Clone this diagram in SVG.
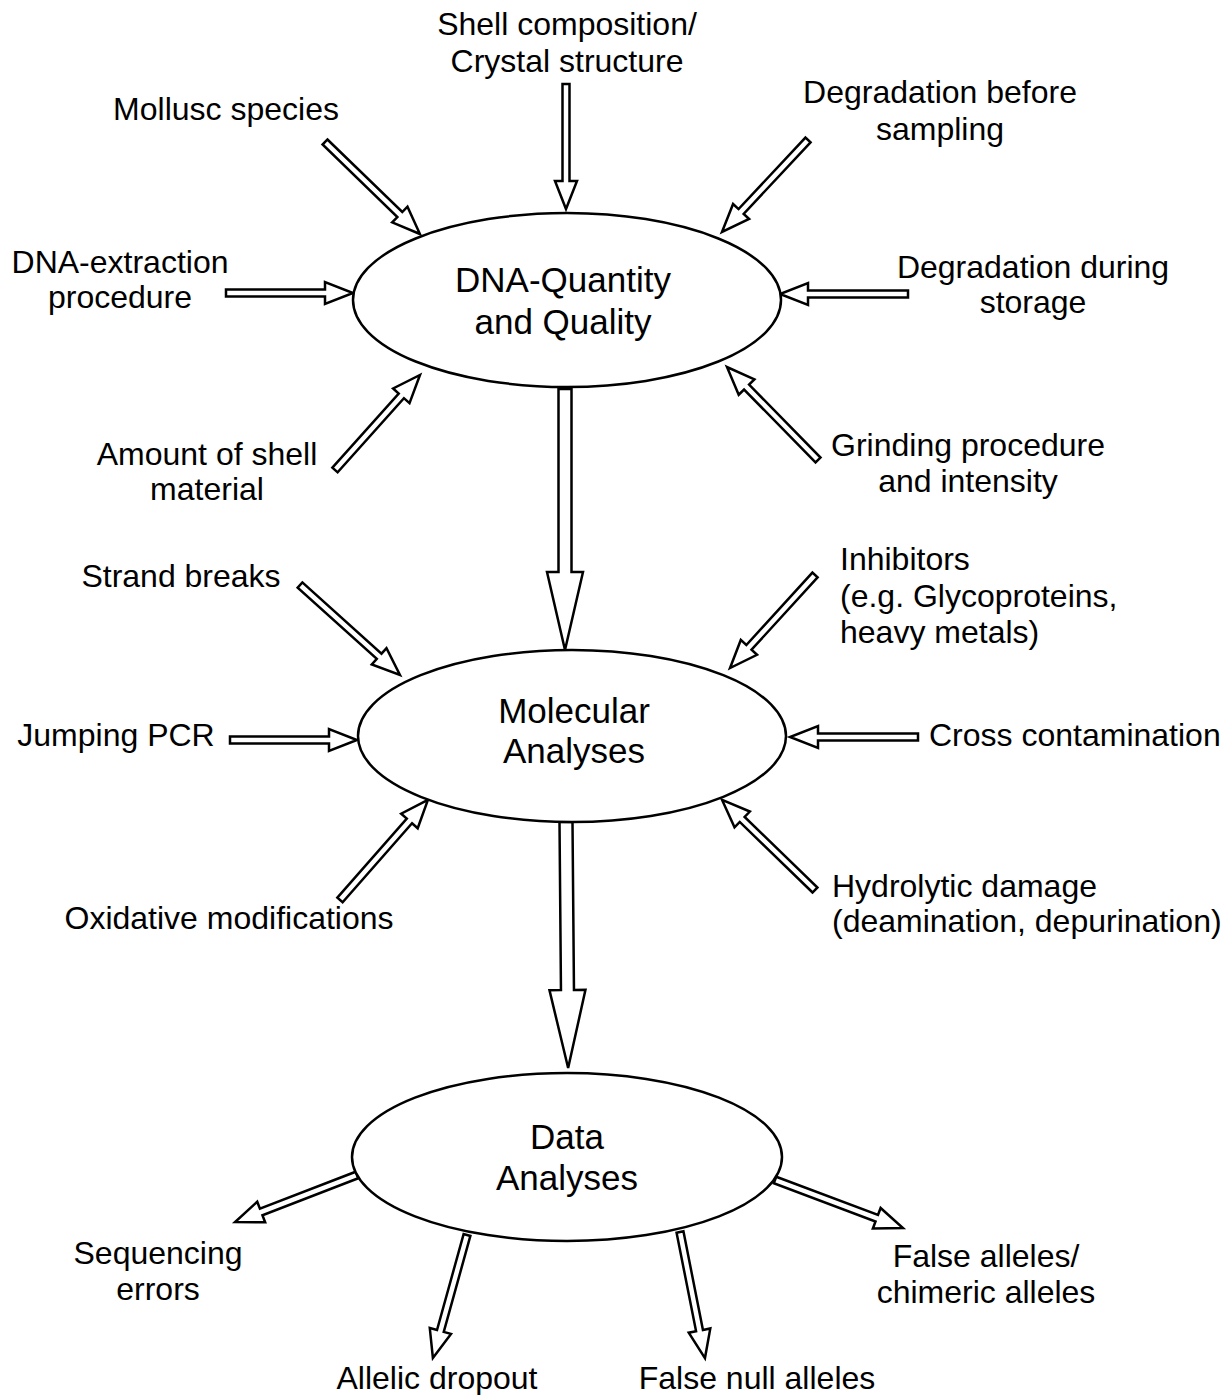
<svg xmlns="http://www.w3.org/2000/svg" width="1232" height="1395" viewBox="0 0 1232 1395">
<style>
.arr{fill:#fff;stroke:#000;stroke-width:2.5;stroke-linejoin:miter}
.ell{fill:#fff;stroke:#000;stroke-width:2.5}
text{font-family:"Liberation Sans",Arial,sans-serif;font-size:32px;fill:#000}
.c{text-anchor:middle}
.big{font-size:35px}
</style>
<rect width="1232" height="1395" fill="#fff"/>
<g id="connectors">
<path class="arr" transform="translate(325,142) rotate(44.1)" d="M0,-3.5H104.2V-11L132.2,0L104.2,11V3.5H0Z"/>
<path class="arr" transform="translate(566,84) rotate(90)" d="M0,-3.5H97V-11L125,0L97,11V3.5H0Z"/>
<path class="arr" transform="translate(808,140) rotate(133.1)" d="M0,-3.5H97.9V-11L125.9,0L97.9,11V3.5H0Z"/>
<path class="arr" transform="translate(226,293)" d="M0,-3.5H99V-11L127,0L99,11V3.5H0Z"/>
<path class="arr" transform="translate(908,294) rotate(180)" d="M0,-3.5H100V-11L128,0L100,11V3.5H0Z"/>
<path class="arr" transform="translate(335,470) rotate(-48.2)" d="M0,-3.5H99.5V-11L127.5,0L99.5,11V3.5H0Z"/>
<path class="arr" transform="translate(818,460) rotate(-134.4)" d="M0,-3.5H102.1V-11L130.1,0L102.1,11V3.5H0Z"/>
<path class="arr" transform="translate(565,389) rotate(90)" d="M0,-6.5H183V-18L261,0L183,18V6.5H0Z"/>
<path class="arr" transform="translate(300,585) rotate(42)" d="M0,-3.5H106.5V-11L134.5,0L106.5,11V3.5H0Z"/>
<path class="arr" transform="translate(815,575) rotate(132.4)" d="M0,-3.5H98V-11L126,0L98,11V3.5H0Z"/>
<path class="arr" transform="translate(230,740)" d="M0,-3.5H99V-11L127,0L99,11V3.5H0Z"/>
<path class="arr" transform="translate(918,737) rotate(180)" d="M0,-3.5H100V-11L128,0L100,11V3.5H0Z"/>
<path class="arr" transform="translate(340,900) rotate(-48.7)" d="M0,-3.5H105.2V-11L133.2,0L105.2,11V3.5H0Z"/>
<path class="arr" transform="translate(815,890) rotate(-135.9)" d="M0,-3.5H101.4V-11L129.4,0L101.4,11V3.5H0Z"/>
<path class="arr" transform="translate(566,822) rotate(89.5)" d="M0,-6.5H168V-18L246,0L168,18V6.5H0Z"/>
<path class="arr" transform="translate(357,1175) rotate(158.9)" d="M0,-3.5H102.7V-11L130.7,0L102.7,11V3.5H0Z"/>
<path class="arr" transform="translate(467,1235) rotate(105.5)" d="M0,-3.5H99.6V-11L127.6,0L99.6,11V3.5H0Z"/>
<path class="arr" transform="translate(680,1232) rotate(78.8)" d="M0,-3.5H100.5V-11L128.5,0L100.5,11V3.5H0Z"/>
<path class="arr" transform="translate(775,1180) rotate(20.6)" d="M0,-3.5H108.7V-11L136.7,0L108.7,11V3.5H0Z"/>
</g>
<g id="node-dna">
<ellipse class="ell" cx="567" cy="300" rx="214" ry="87"/>
<text class="c big" x="563" y="292">DNA-Quantity</text>
<text class="c big" x="563" y="334">and Quality</text>
</g>
<g id="node-molecular">
<ellipse class="ell" cx="572" cy="736" rx="214" ry="86"/>
<text class="c big" x="574" y="723">Molecular</text>
<text class="c big" x="574" y="763">Analyses</text>
</g>
<g id="node-data">
<ellipse class="ell" cx="567" cy="1157" rx="215" ry="84"/>
<text class="c big" x="567" y="1149">Data</text>
<text class="c big" x="567" y="1190">Analyses</text>
</g>
<g id="label-shell"><text class="c" x="567" y="35">Shell composition/</text><text class="c" x="567" y="72">Crystal structure</text></g>
<g id="label-mollusc"><text class="c" x="226" y="120">Mollusc species</text></g>
<g id="label-degr-before"><text class="c" x="940" y="103">Degradation before</text><text class="c" x="940" y="140">sampling</text></g>
<g id="label-extraction"><text class="c" x="120" y="273">DNA-extraction</text><text class="c" x="120" y="308">procedure</text></g>
<g id="label-degr-during"><text class="c" x="1033" y="278">Degradation during</text><text class="c" x="1033" y="313">storage</text></g>
<g id="label-amount"><text class="c" x="207" y="465">Amount of shell</text><text class="c" x="207" y="500">material</text></g>
<g id="label-grinding"><text class="c" x="968" y="456">Grinding procedure</text><text class="c" x="968" y="492">and intensity</text></g>
<g id="label-strand"><text class="c" x="181" y="587">Strand breaks</text></g>
<g id="label-inhibitors"><text x="840" y="570">Inhibitors</text><text x="840" y="607">(e.g. Glycoproteins,</text><text x="840" y="643">heavy metals)</text></g>
<g id="label-jumping"><text class="c" x="116" y="746">Jumping PCR</text></g>
<g id="label-cross"><text x="929" y="746">Cross contamination</text></g>
<g id="label-oxidative"><text class="c" x="229" y="929">Oxidative modifications</text></g>
<g id="label-hydrolytic"><text x="832" y="897">Hydrolytic damage</text><text x="832" y="932">(deamination, depurination)</text></g>
<g id="label-sequencing"><text class="c" x="158" y="1264">Sequencing</text><text class="c" x="158" y="1300">errors</text></g>
<g id="label-false-alleles"><text class="c" x="986" y="1267">False alleles/</text><text class="c" x="986" y="1303">chimeric alleles</text></g>
<g id="label-dropout"><text class="c" x="437" y="1389">Allelic dropout</text></g>
<g id="label-null"><text class="c" x="757" y="1389">False null alleles</text></g>
</svg>
